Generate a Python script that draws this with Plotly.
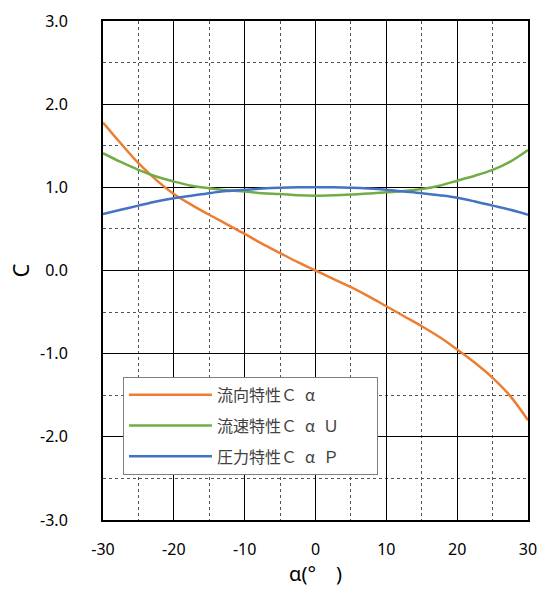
import plotly.graph_objects as go

alpha = [-30, -27.5, -25, -22.5, -20, -17.5, -15, -12.5, -10, -7.5, -5, -2.5, 0,
         2.5, 5, 7.5, 10, 12.5, 15, 17.5, 20, 22.5, 25, 27.5, 30]
c_alpha = [1.78, 1.53, 1.29, 1.09, 0.92, 0.79, 0.67, 0.555, 0.44, 0.32, 0.21, 0.10, 0.0,
           -0.10, -0.20, -0.31, -0.43, -0.55, -0.67, -0.80, -0.95, -1.11, -1.29, -1.51, -1.80]
c_alpha_u = [1.41, 1.305, 1.21, 1.13, 1.07, 1.02, 0.99, 0.965, 0.95, 0.93, 0.92, 0.905, 0.90,
             0.905, 0.915, 0.925, 0.94, 0.955, 0.98, 1.02, 1.08, 1.14, 1.21, 1.31, 1.45]
c_alpha_p = [0.68, 0.73, 0.78, 0.83, 0.87, 0.90, 0.93, 0.955, 0.97, 0.985, 0.995, 1.0, 1.0,
             1.0, 0.995, 0.985, 0.97, 0.95, 0.93, 0.905, 0.875, 0.83, 0.78, 0.73, 0.67]

x_ticks = [-30, -20, -10, 0, 10, 20, 30]
x_labels = ["-30", "-20", "-10", "0", "10", "20", "30"]
y_ticks = [-3, -2, -1, 0, 1, 2, 3]
y_labels = ["-3.0", "-2.0", "-1.0", "0.0", "1.0", "2.0", "3.0"]

names = ["流向特性Ｃ\u2002α", "流速特性Ｃ\u2002α\u2002Ｕ\u3000\u3000", "圧力特性Ｃ\u2002α\u2002Ｐ"]
colors = ["#ED7D31", "#70AD47", "#4472C4"]

fig = go.Figure()
for i, (ys, nm, col) in enumerate(zip([c_alpha, c_alpha_u, c_alpha_p], names, colors)):
    fig.add_trace(go.Scatter(x=alpha, y=ys, mode="lines", name=nm, legendgroup=str(i),
                             line=dict(color=col, width=2.5, shape="spline", smoothing=1.0)))

tickfont = dict(family="Noto Sans, DejaVu Sans, sans-serif", size=16, color="black")
fig.update_layout(
    width=538, height=591, autosize=False,
    margin=dict(l=103, r=10, t=21, b=71, autoexpand=False),
    paper_bgcolor="white", plot_bgcolor="white",
    showlegend=True,
    legend=dict(x=0.047, y=0.287, xanchor="left", yanchor="top",
                bgcolor="white", bordercolor="#7f7f7f", borderwidth=1,
                tracegroupgap=7, itemwidth=83,
                font=dict(family="Noto Sans CJK JP", size=16, color="#404040")),
    xaxis=dict(range=[-30, 30], tickmode="array", tickvals=x_ticks, ticktext=x_labels,
               showgrid=True, gridcolor="black", gridwidth=1,
               minor=dict(dtick=5, tick0=0, showgrid=True, gridcolor="#555555", griddash="dot", gridwidth=1),
               showline=True, linecolor="black", linewidth=2, mirror=True,
               ticks="", tickfont=tickfont, zeroline=False, ticklabelstandoff=14,
               ticklabeloverflow="allow", automargin=False,
               title=dict(text="α(°\u3000)", font=dict(family="Noto Sans, Noto Sans CJK JP", size=20, color="black"),
                          standoff=8)),
    yaxis=dict(range=[-3, 3], tickmode="array", tickvals=y_ticks, ticktext=y_labels,
               showgrid=True, gridcolor="black", gridwidth=1,
               minor=dict(dtick=0.5, tick0=0, showgrid=True, gridcolor="#555555", griddash="dot", gridwidth=1),
               showline=True, linecolor="black", linewidth=2, mirror=True,
               ticks="", tickfont=tickfont, zeroline=False, ticklabelstandoff=30,
               automargin=False,
               title=dict(text="C", font=dict(family="Noto Sans", size=22, color="black"),
                          standoff=4)),
)
fig.write_html("out.html")
